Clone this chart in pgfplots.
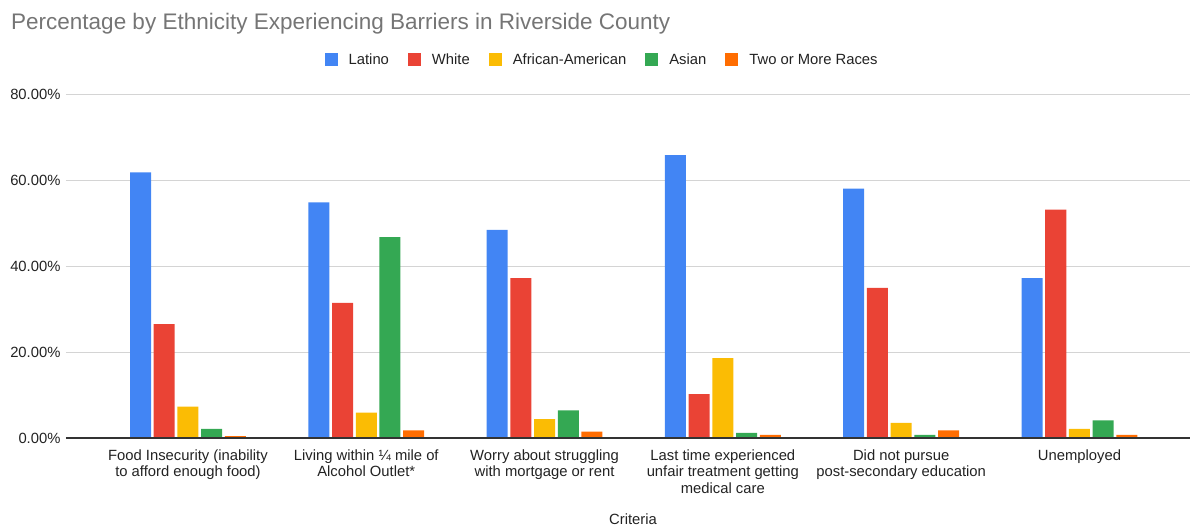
\documentclass[border=0pt]{standalone}
\usepackage{fontspec}
\setmainfont{Liberation Sans}
\usepackage{pgfplots}
\pgfplotsset{compat=1.18}
\definecolor{cLat}{HTML}{4285F4}
\definecolor{cWhi}{HTML}{EA4335}
\definecolor{cAfr}{HTML}{FBBC04}
\definecolor{cAsi}{HTML}{34A853}
\definecolor{cTwo}{HTML}{FF6D01}
\definecolor{titlegray}{HTML}{757575}
\definecolor{labgray}{HTML}{222222}
\definecolor{axgray}{HTML}{333333}
\definecolor{gridgray}{HTML}{D4D4D4}
\begin{document}
\begin{tikzpicture}[x=1pt,y=1pt]
\useasboundingbox (-66,-93) rectangle (1125,438);
\node[anchor=base west, text=titlegray, font=\fontsize{22.5}{26}\selectfont, inner sep=0] at (-55,408) {Percentage by Ethnicity Experiencing Barriers in Riverside County};
\begin{axis}[
  scale only axis,
  width=1124pt, height=344pt,
  ymin=0, ymax=80, xmin=-0.684, xmax=5.62,
  ytick={0,20,40,60,80},
  yticklabels={0.00\%,20.00\%,40.00\%,60.00\%,80.00\%},
  xtick={0,1,2,3,4,5},
  xticklabels={{Food Insecurity (inability\\to afford enough food)},{Living within ¼ mile of\\Alcohol Outlet*},{Worry about struggling\\with mortgage or rent},{Last time experienced\\unfair treatment getting\\medical care},{Did not pursue\\post-secondary education},{Unemployed}},
  xticklabel style={align=center, font=\fontsize{14.8}{16.5}\selectfont, text=labgray, yshift=-8pt},
  yticklabel style={font=\fontsize{14.8}{17}\selectfont, text=labgray, xshift=-2pt},
  major tick length=0pt,
  ymajorgrids, grid style={gridgray, line width=1pt},
  axis line style={draw=none},
  ybar, bar width=0.1178,
  xlabel={Criteria}, xlabel style={font=\fontsize{14.8}{17}\selectfont, text=labgray, at={(0.5045,-0.235)}, anchor=center},
  legend columns=5,
  legend style={at={(0.477,1.099)}, anchor=center, draw=none, fill=none, font=\fontsize{14.8}{17}\selectfont,
    text=labgray,
    /tikz/every odd column/.append style={column sep=9pt},
    /tikz/every even column/.append style={column sep=17pt}},
  legend image code/.code={\fill[#1] (0pt,-6.5pt) rectangle (13pt,6.5pt);},
  every axis plot/.append style={draw=none},
]
\addplot[fill=cLat, bar shift=-0.266] coordinates {(0,61.8) (1,54.8) (2,48.4) (3,65.8) (4,58.0) (5,37.2)};
\addplot[fill=cWhi, bar shift=-0.133] coordinates {(0,26.5) (1,31.4) (2,37.2) (3,10.2) (4,34.9) (5,53.1)};
\addplot[fill=cAfr, bar shift=0] coordinates {(0,7.3) (1,5.9) (2,4.4) (3,18.6) (4,3.5) (5,2.1)};
\addplot[fill=cAsi, bar shift=0.133] coordinates {(0,2.1) (1,46.7) (2,6.4) (3,1.2) (4,0.7) (5,4.1)};
\addplot[fill=cTwo, bar shift=0.266] coordinates {(0,0.45) (1,1.8) (2,1.5) (3,0.7) (4,1.8) (5,0.7)};
\legend{Latino,White,African-American,Asian,Two or More Races}
\draw[axgray, line width=1.2pt] (rel axis cs:0,0) -- (rel axis cs:1,0);
\end{axis}
\end{tikzpicture}
\end{document}
